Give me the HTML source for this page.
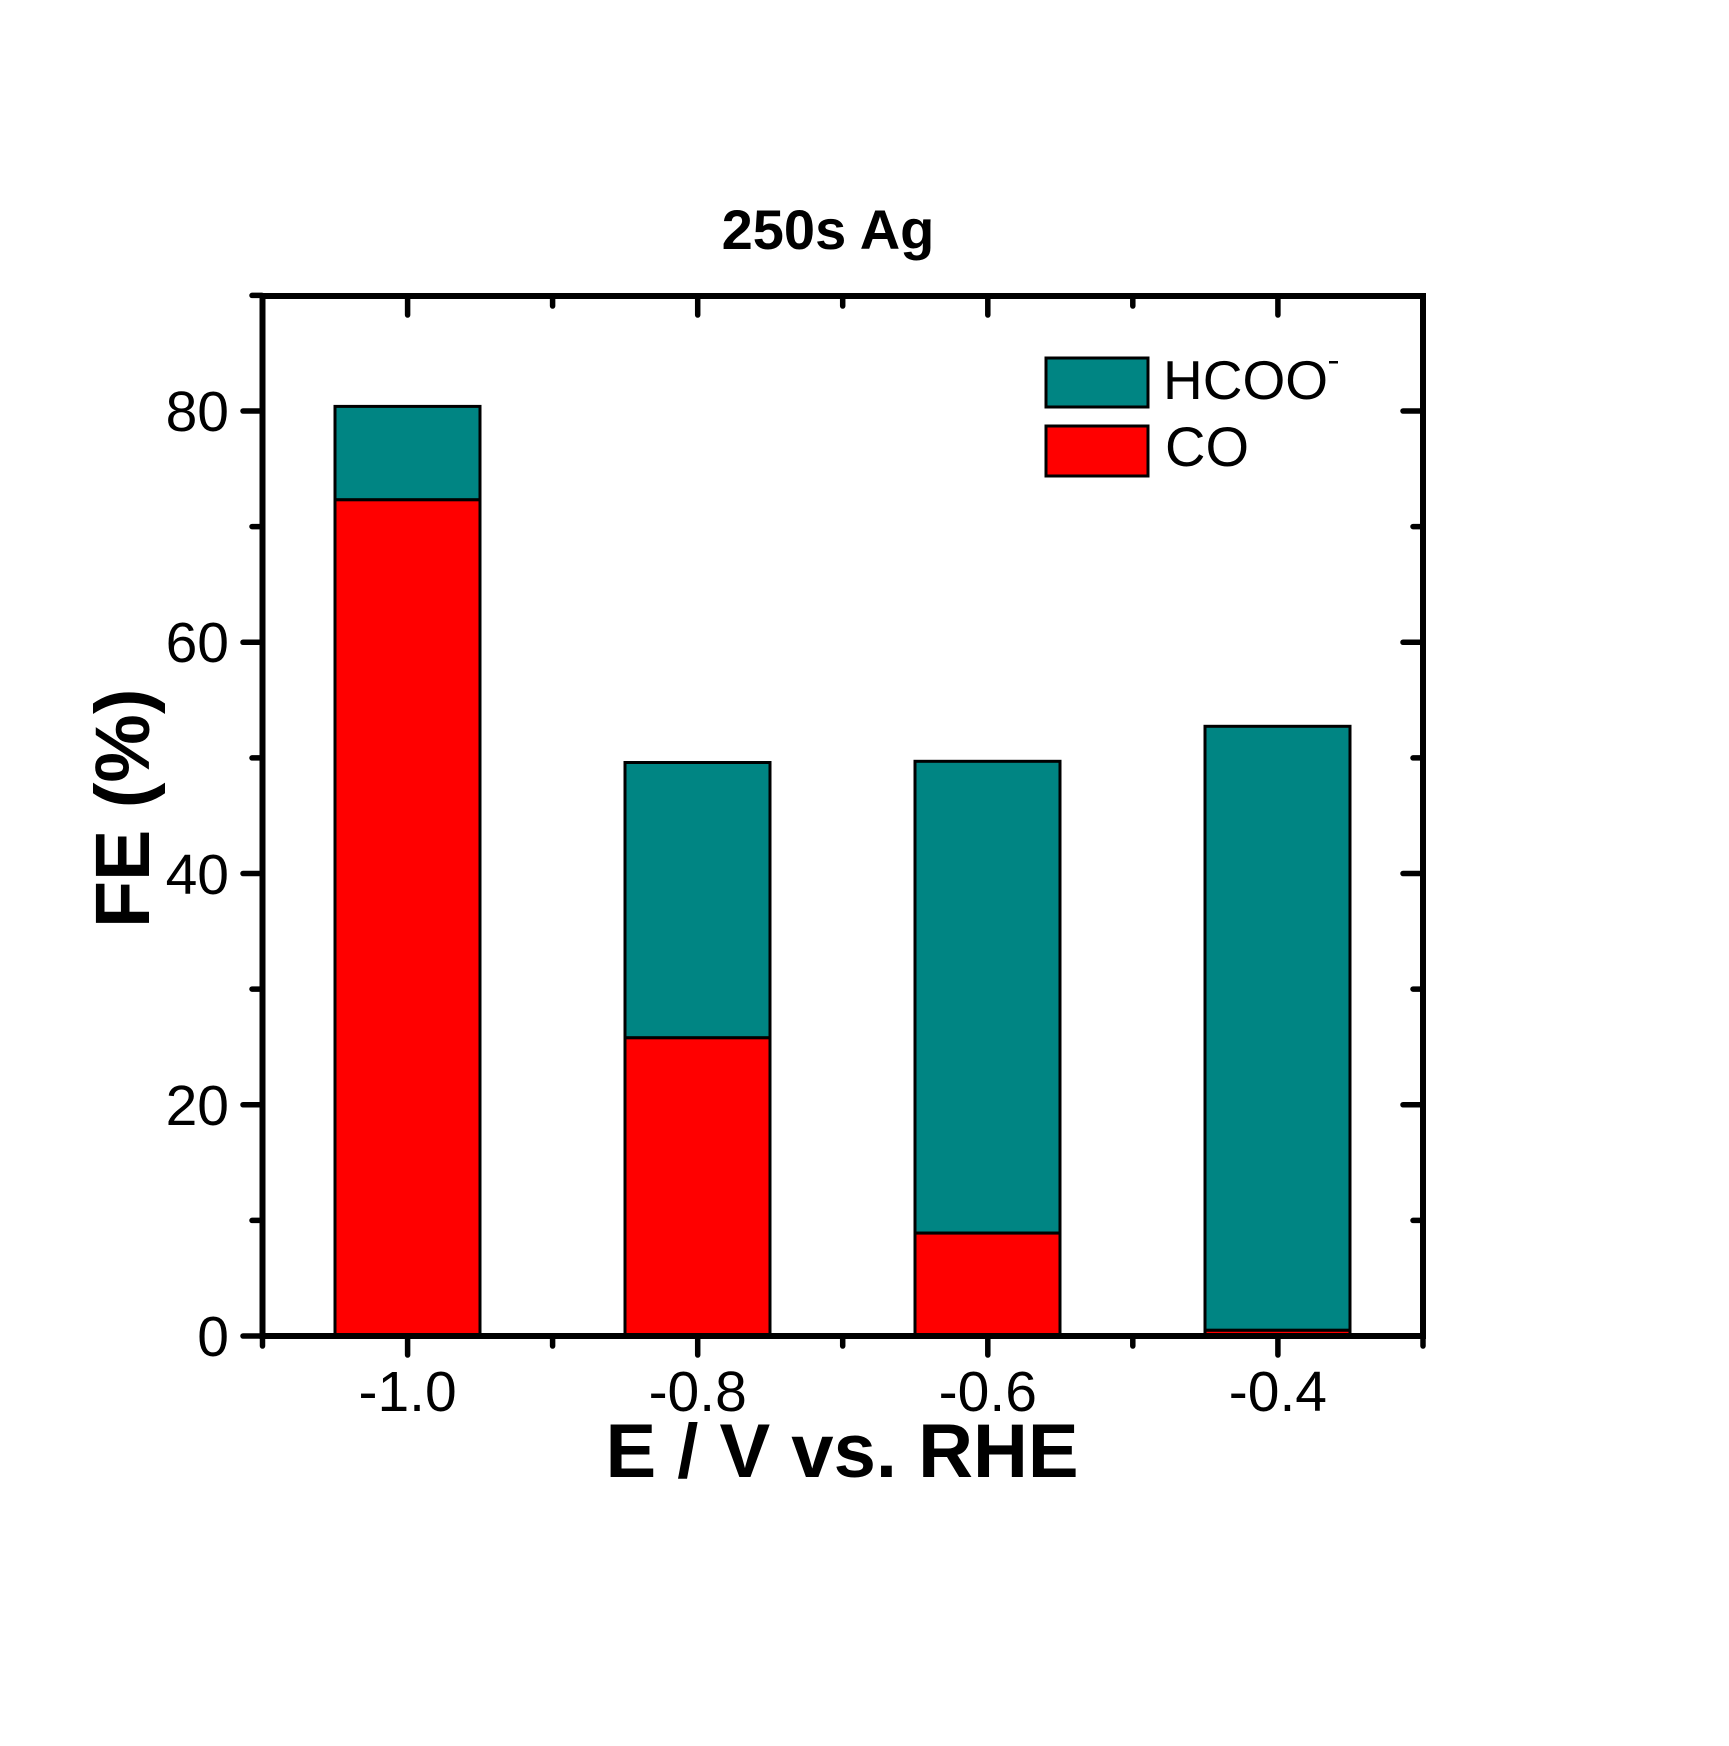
<!DOCTYPE html>
<html><head><meta charset="utf-8"><style>html,body{margin:0;padding:0;background:#fff}</style></head>
<body>
<svg width="1729" height="1741" viewBox="0 0 1729 1741" xmlns="http://www.w3.org/2000/svg" font-family="Liberation Sans, Arial, sans-serif">
<rect width="1729" height="1741" fill="#fff"/>
<g stroke="#000" stroke-width="3">
<rect x="335" y="406.4" width="145" height="93.4" fill="#008583"/>
<rect x="335" y="499.8" width="145" height="836.2" fill="#ff0000"/>
<rect x="625" y="762.5" width="145" height="275.3" fill="#008583"/>
<rect x="625" y="1037.8" width="145" height="298.2" fill="#ff0000"/>
<rect x="915" y="761.3" width="145" height="471.8" fill="#008583"/>
<rect x="915" y="1233.1" width="145" height="102.9" fill="#ff0000"/>
<rect x="1205" y="726.3" width="145" height="604" fill="#008583"/>
<rect x="1205" y="1330.3" width="145" height="5.7" fill="#ff0000"/>
</g>
<rect x="262.5" y="296" width="1160.5" height="1040" fill="none" stroke="#000" stroke-width="6"/>
<g stroke="#000" stroke-width="5.5" stroke-linecap="round">
<path d="M243 1336H262 M243 1104.75H262 M243 873.5H262 M243 642.25H262 M243 411H262"/>
<path d="M1403 1336H1423 M1403 1104.75H1423 M1403 873.5H1423 M1403 642.25H1423 M1403 411H1423"/>
<path d="M252 1220.4H262 M252 989.1H262 M252 757.9H262 M252 526.6H262 M252 295.4H262"/>
<path d="M1413 1220.4H1423 M1413 989.1H1423 M1413 757.9H1423 M1413 526.6H1423"/>
<path d="M407.6 1336V1355 M697.7 1336V1355 M987.8 1336V1355 M1277.9 1336V1355"/>
<path d="M262.5 1336V1346 M552.6 1336V1346 M842.7 1336V1346 M1132.8 1336V1346 M1423 1336V1346"/>
<path d="M407.6 296V315 M697.7 296V315 M987.8 296V315 M1277.9 296V315"/>
<path d="M262.5 296V306 M552.6 296V306 M842.7 296V306 M1132.8 296V306"/>
</g>
<g font-size="57" text-anchor="end" fill="#000">
<text x="229" y="1356">0</text>
<text x="229" y="1125">20</text>
<text x="229" y="894">40</text>
<text x="229" y="662">60</text>
<text x="229" y="431">80</text>
</g>
<g font-size="57" text-anchor="middle" fill="#000">
<text x="407.6" y="1411">-1.0</text>
<text x="697.7" y="1411">-0.8</text>
<text x="987.8" y="1411">-0.6</text>
<text x="1277.9" y="1411">-0.4</text>
</g>
<text x="828" y="249" font-size="56" font-weight="bold" text-anchor="middle">250s Ag</text>
<text x="842" y="1477" font-size="76" font-weight="bold" text-anchor="middle">E / V vs. RHE</text>
<text transform="translate(149,928) rotate(-90)" font-size="77" font-weight="bold">FE (%)</text>
<rect x="1046" y="358" width="102" height="49" fill="#008583" stroke="#000" stroke-width="3"/>
<rect x="1046" y="426" width="102" height="50" fill="#ff0000" stroke="#000" stroke-width="3"/>
<text x="1163" y="399" font-size="55">HCOO</text>
<rect x="1329" y="361" width="9" height="2.5" fill="#000"/>
<text x="1165" y="466" font-size="56">CO</text>
</svg>
</body></html>
